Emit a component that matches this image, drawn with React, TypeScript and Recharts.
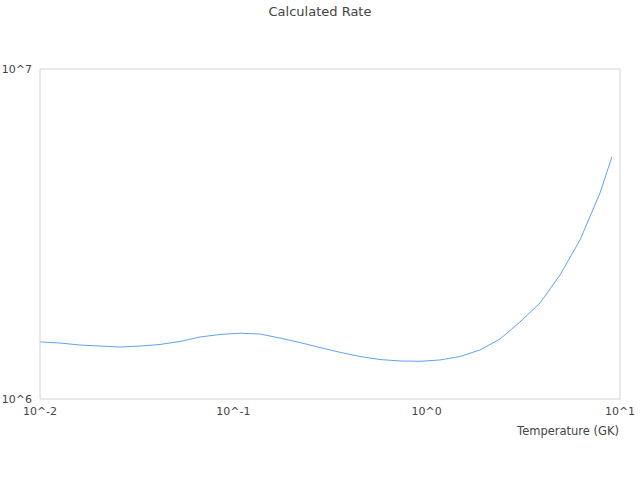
import React from "react";
import {
  LineChart,
  Line,
  XAxis,
  YAxis,
  ReferenceLine,
} from "recharts";

// temperature grid (GK) and calculated rate
const temperatures = [
  0.01, 0.01269, 0.0161, 0.02043, 0.02593, 0.0329, 0.04175, 0.05298, 0.06723,
  0.08531, 0.1083, 0.1374, 0.1743, 0.2212, 0.2807, 0.3562, 0.452, 0.5736,
  0.7279, 0.9237, 1.172, 1.487, 1.887, 2.395, 3.039, 3.857, 4.894, 6.211,
  7.881, 9.09,
];
const rates = [
  1.489e6, 1.478e6, 1.457e6, 1.447e6, 1.437e6, 1.447e6, 1.463e6, 1.494e6,
  1.541e6, 1.569e6, 1.582e6, 1.574e6, 1.53e6, 1.483e6, 1.432e6, 1.385e6,
  1.345e6, 1.317e6, 1.304e6, 1.301e6, 1.313e6, 1.345e6, 1.408e6, 1.52e6,
  1.711e6, 1.954e6, 2.376e6, 3.033e6, 4.21e6, 5.424e6,
];

const xTicks = [0.01, 0.1, 1, 10];
const xTickLabels = ["10^-2", "10^-1", "10^0", "10^1"];
const yTicks = [1e6, 1e7];
const yTickLabels = ["10^6", "10^7"];

const FONT = "DejaVu Sans";
const FRAME = "#d3d3d3";
const TEXT = "#444";

export default function App() {
  const data = temperatures.map((t, i) => ({ t, rate: rates[i] }));

  return (
    <div
      style={{
        position: "absolute",
        left: 0,
        top: 0,
        width: 640,
        height: 480,
        background: "#fff",
        fontFamily: FONT,
      }}
    >
      <div
        style={{
          position: "absolute",
          top: 4,
          width: 640,
          textAlign: "center",
          fontSize: 13,
          color: TEXT,
        }}
      >
        Calculated Rate
      </div>
      <LineChart
        width={640}
        height={480}
        data={data}
        margin={{ top: 69, right: 20, bottom: 31, left: 0 }}
      >
        <XAxis
          dataKey="t"
          type="number"
          scale="log"
          domain={[0.01, 10]}
          ticks={xTicks}
          tickFormatter={(v) => xTickLabels[xTicks.indexOf(v)] ?? ""}
          tickLine={false}
          axisLine={{ stroke: FRAME }}
          tick={{ fontSize: 11, fill: TEXT, fontFamily: FONT }}
          height={50}
          allowDataOverflow
          label={{
            content: ({ viewBox }: any) => (
              <text
                x={viewBox.x + viewBox.width - 1}
                y={viewBox.y + 36}
                textAnchor="end"
                fontSize={11.5}
                fill={TEXT}
                fontFamily={FONT}
              >
                Temperature (GK)
              </text>
            ),
          }}
        />
        <YAxis
          type="number"
          scale="log"
          domain={[1e6, 1e7]}
          ticks={yTicks}
          tickFormatter={(v) => yTickLabels[yTicks.indexOf(v)] ?? ""}
          tickLine={false}
          axisLine={{ stroke: FRAME }}
          tick={{ fontSize: 11, fill: TEXT, fontFamily: FONT }}
          width={40}
          allowDataOverflow
        />
        <ReferenceLine y={1e7} stroke={FRAME} />
        <ReferenceLine x={10} stroke={FRAME} />
        <Line
          dataKey="rate"
          type="linear"
          stroke="#5fa4f0"
          strokeWidth={1}
          dot={false}
          isAnimationActive={false}
        />
      </LineChart>
    </div>
  );
}
